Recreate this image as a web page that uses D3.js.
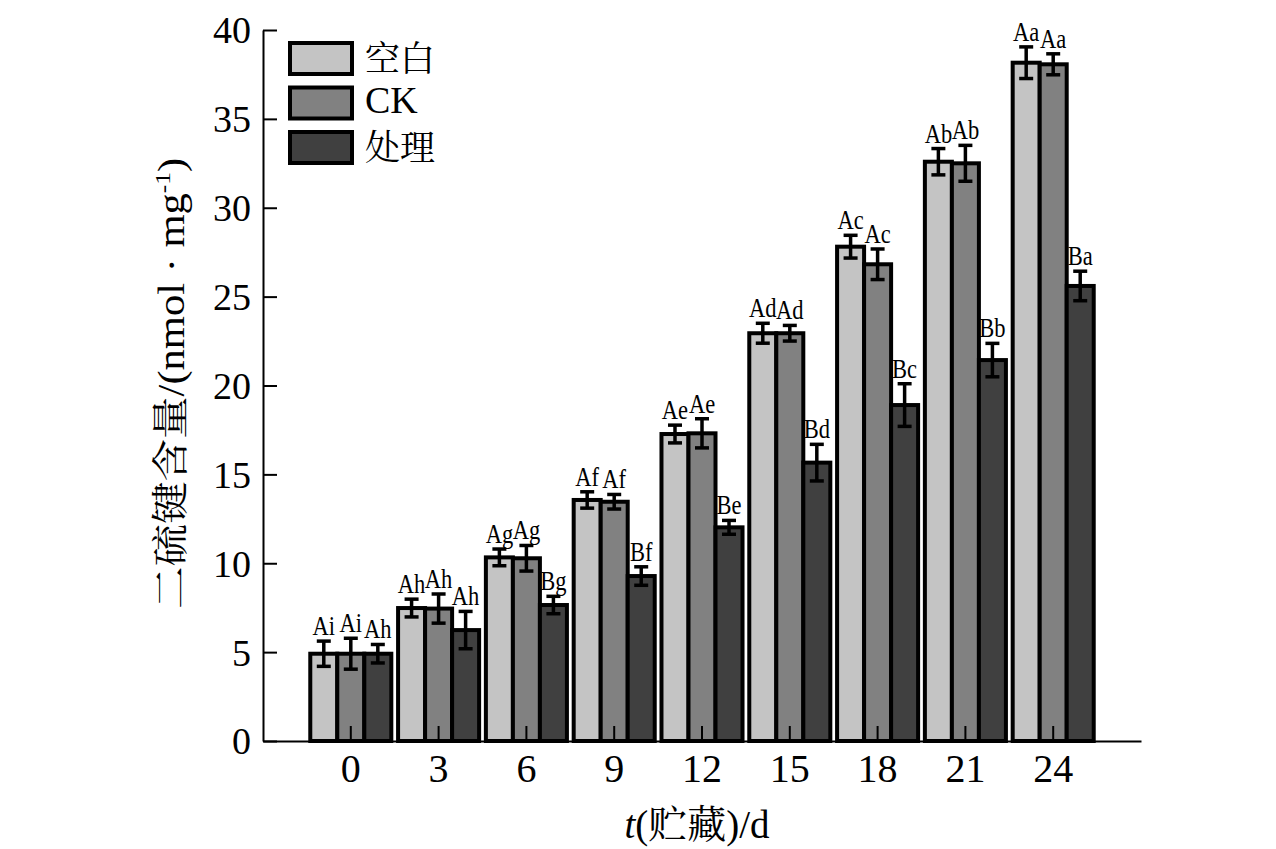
<!DOCTYPE html>
<html>
<head>
<meta charset="utf-8">
<script src="https://cdn.jsdelivr.net/npm/d3@7"></script>
<style>
  html, body { margin: 0; padding: 0; background: #fff; }
  svg { display: block; }
</style>
</head>
<body>
<svg id="chart" width="1276" height="849"></svg>
<script>
// storage days
const days = [0, 3, 6, 9, 12, 15, 18, 21, 24];
const seriesNames = ["空白", "CK", "处理"];

// disulfide bond content, nmol/mg
const blankVals = [4.91, 7.48, 10.33, 13.56, 17.27, 22.94, 27.81, 32.59, 38.16];
const blankErr = [0.71, 0.50, 0.47, 0.46, 0.50, 0.56, 0.64, 0.74, 0.89];
const ckVals = [4.91, 7.45, 10.28, 13.46, 17.31, 22.94, 26.82, 32.50, 38.07];
const ckErr = [0.87, 0.82, 0.72, 0.41, 0.82, 0.44, 0.86, 1.01, 0.59];
const treatVals = [4.91, 6.24, 7.65, 9.28, 12.02, 15.66, 18.90, 21.43, 25.60];
const treatErr = [0.52, 1.05, 0.49, 0.52, 0.39, 1.03, 1.20, 0.94, 0.83];

// significance letters
const blankSig = ["Ai", "Ah", "Ag", "Af", "Ae", "Ad", "Ac", "Ab", "Aa"];
const ckSig = ["Ai", "Ah", "Ag", "Af", "Ae", "Ad", "Ac", "Ab", "Aa"];
const treatSig = ["Ah", "Ah", "Bg", "Bf", "Be", "Bd", "Bc", "Bb", "Ba"];

const yTicks = [0, 5, 10, 15, 20, 25, 30, 35, 40];

const colors = { "空白": "#c4c4c4", "CK": "#818181", "处理": "#404040" };

const SERIF = "'Liberation Serif', 'Times New Roman', 'DejaVu Serif', serif";
const CJK = "'Noto Serif CJK SC', 'Noto Sans CJK SC', sans-serif";

const series = [
    { name: "空白", vals: blankVals, err: blankErr, sig: blankSig },
    { name: "CK", vals: ckVals, err: ckErr, sig: ckSig },
    { name: "处理", vals: treatVals, err: treatErr, sig: treatSig },
];

const svg = d3.select("#chart");
const margin = { left: 263, right: 1141, bottom: 741, top: 30 };

const x = d3.scaleBand()
    .domain(days)
    .range([margin.left, margin.right])
    .paddingInner(0.077)
    .paddingOuter(0.5385);

const xs = d3.scaleBand()
    .domain(seriesNames)
    .range([0, x.bandwidth()]);

const y = d3.scaleLinear()
    .domain([0, 40])
    .range([margin.bottom, margin.top]);

// bars
const rows = series.flatMap(s => days.map((d, i) => ({
    name: s.name, day: d, val: s.vals[i], err: s.err[i], sig: s.sig[i]
})));

const g = svg.append("g");

g.selectAll("rect.bar")
    .data(rows)
    .enter()
    .append("rect")
    .attr("class", "bar")
    .attr("x", d => x(d.day) + xs(d.name))
    .attr("y", d => y(d.val))
    .attr("width", xs.bandwidth())
    .attr("height", d => y(0) - y(d.val))
    .attr("fill", d => colors[d.name])
    .attr("stroke", "#000")
    .attr("stroke-width", 4);

// error bars
const cx = d => x(d.day) + xs(d.name) + xs.bandwidth() / 2;
const capW = 7;
const eb = g.selectAll("g.err")
    .data(rows)
    .enter()
    .append("g")
    .attr("class", "err")
    .attr("stroke", "#000")
    .attr("stroke-width", 3.5);

eb.append("line")
    .attr("x1", cx).attr("x2", cx)
    .attr("y1", d => y(d.val + d.err))
    .attr("y2", d => y(d.val - d.err));
eb.append("line")
    .attr("x1", d => cx(d) - capW).attr("x2", d => cx(d) + capW)
    .attr("y1", d => y(d.val + d.err)).attr("y2", d => y(d.val + d.err));
eb.append("line")
    .attr("x1", d => cx(d) - capW).attr("x2", d => cx(d) + capW)
    .attr("y1", d => y(d.val - d.err)).attr("y2", d => y(d.val - d.err));

// letters above error bars (narrow face, stretched vertically like the print)
g.selectAll("text.sig")
    .data(rows)
    .enter()
    .append("text")
    .attr("class", "sig")
    .attr("transform", d => `translate(${cx(d)},${y(d.val + d.err) - 6}) scale(1,1.2)`)
    .attr("text-anchor", "middle")
    .style("font-family", SERIF)
    .style("font-size", "22.5px")
    .attr("fill", "#000")
    .text(d => d.sig);

// axes
const xAxis = svg.append("g")
    .attr("transform", `translate(0,${margin.bottom})`)
    .call(d3.axisBottom(x).tickSizeInner(-15).tickSizeOuter(0).tickPadding(0));
xAxis.select(".domain").attr("stroke-width", 2);
xAxis.selectAll(".tick line").attr("stroke-width", 2);
xAxis.selectAll(".tick text")
    .style("font-family", SERIF)
    .style("font-size", "40px")
    .attr("fill", "#000")
    .attr("y", 41)
    .attr("dy", 0);

const yAxis = svg.append("g")
    .attr("transform", `translate(${margin.left},0)`)
    .call(d3.axisLeft(y).tickValues(yTicks).tickSizeInner(-14).tickSizeOuter(0).tickPadding(12));
yAxis.select(".domain").attr("stroke-width", 2);
yAxis.selectAll(".tick line").attr("stroke-width", 2);
yAxis.selectAll(".tick text")
    .style("font-family", SERIF)
    .style("font-size", "38px")
    .attr("fill", "#000")
    .attr("dy", "0.34em");

// x title
const xt = svg.append("text")
    .attr("x", 697)
    .attr("y", 838)
    .attr("text-anchor", "middle")
    .attr("fill", "#000")
    .style("font-size", "39px")
    .style("font-family", SERIF);
xt.append("tspan").style("font-style", "italic").text("t");
xt.append("tspan").text("(");
xt.append("tspan").style("font-family", CJK).text("贮藏");
xt.append("tspan").text(")/d");

// y title
const yt = svg.append("text")
    .attr("transform", `translate(184,${(margin.top + margin.bottom) / 2 - 2}) rotate(-90) scale(1.15,1)`)
    .attr("text-anchor", "middle")
    .attr("fill", "#000")
    .style("font-size", "37px")
    .style("font-family", SERIF);
yt.append("tspan").style("font-family", CJK).text("二硫键含量");
yt.append("tspan").text("/(nmol · mg");
yt.append("tspan").style("font-size", "22px").attr("dy", -14).text("-1");
yt.append("tspan").attr("dy", 14).text(")");

// legend
const legend = svg.append("g").attr("transform", "translate(290,43)");
const li = legend.selectAll("g")
    .data(seriesNames)
    .enter()
    .append("g")
    .attr("transform", (d, i) => `translate(0,${i * 44.5})`);
li.append("rect")
    .attr("width", 62).attr("height", 31)
    .attr("fill", d => colors[d])
    .attr("stroke", "#000")
    .attr("stroke-width", 4);
li.append("text")
    .attr("x", 75)
    .attr("y", d => d === "CK" ? 25 : 28)
    .attr("fill", "#000")
    .style("font-size", d => d === "CK" ? "38px" : "35px")
    .style("font-family", d => d === "CK" ? SERIF : CJK)
    .text(d => d);
</script>
</body>
</html>
